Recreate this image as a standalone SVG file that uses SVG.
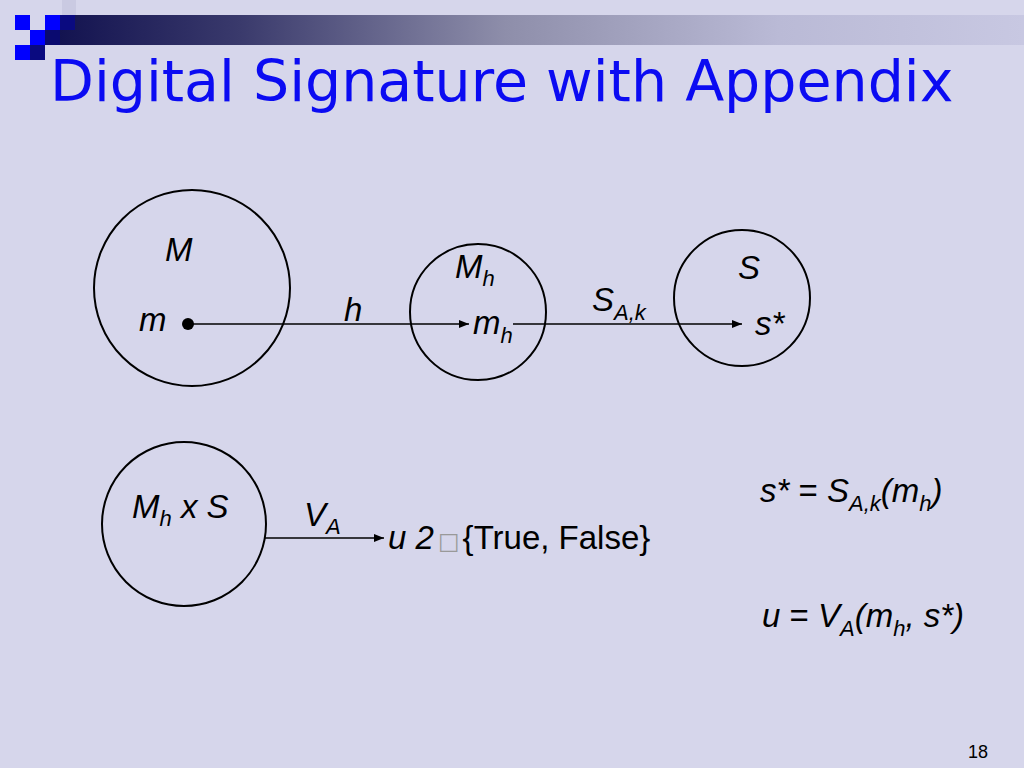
<svg xmlns="http://www.w3.org/2000/svg" width="1024" height="768" viewBox="0 0 1024 768">
<defs>
<linearGradient id="bar" x1="45" y1="0" x2="1024" y2="0" gradientUnits="userSpaceOnUse">
<stop offset="0" stop-color="#10104e"/>
<stop offset="0.2" stop-color="#3a3a6c"/>
<stop offset="0.47" stop-color="#8e8eaa"/>
<stop offset="0.75" stop-color="#babad6"/>
<stop offset="1" stop-color="#c8c8e2"/>
</linearGradient>
<marker id="arr" viewBox="0 0 10 10" refX="10" refY="5" markerWidth="12" markerHeight="10" markerUnits="userSpaceOnUse" orient="auto">
<path d="M0,1 L10,5 L0,9 Z" fill="#000"/>
</marker>
<style>
.t{font-family:"Liberation Sans",Arial,sans-serif;font-style:italic;font-size:33px;fill:#000}
.r{font-style:normal}
.sub{font-size:22px}
.c{fill:none;stroke:#000;stroke-width:2}
.ln{stroke:#000;stroke-width:1.6;fill:none;marker-end:url(#arr)}
</style>
</defs>
<rect width="1024" height="768" fill="#d6d6eb"/>
<g id="header">
<rect x="62" y="0" width="14" height="15" fill="#cacae2"/>
<rect x="45" y="15" width="979" height="30" fill="url(#bar)"/>
<rect x="15" y="15" width="15" height="15" fill="#0000ff"/>
<rect x="45" y="15" width="15" height="15" fill="#0000ff"/>
<rect x="60" y="15" width="15" height="15" fill="#0a0a80"/>
<rect x="30" y="30" width="15" height="15" fill="#0000ff"/>
<rect x="45" y="30" width="15" height="15" fill="#0a0a70"/>
<rect x="15" y="45" width="15" height="15" fill="#0000ff"/>
<rect x="30" y="45" width="15" height="15" fill="#0a0a80"/>
</g>
<text id="title" x="50" y="101" font-family="DejaVu Sans,Verdana,sans-serif" font-size="57" fill="#0b0bf2">Digital Signature with Appendix</text>
<g id="node-M">
<circle class="c" cx="192" cy="288" r="98"/>
<text class="t" x="165" y="261">M</text>
<text class="t" x="139" y="331">m</text>
<circle cx="188" cy="324" r="6" fill="#000"/>
</g>
<g id="node-Mh">
<circle class="c" cx="478" cy="312" r="68"/>
<text class="t" x="455" y="278">M<tspan class="sub" dy="8">h</tspan></text>
<text class="t" x="473" y="334">m<tspan class="sub" dy="9">h</tspan></text>
</g>
<g id="node-S">
<circle class="c" cx="742" cy="298" r="68"/>
<text class="t" x="738" y="279">S</text>
<text class="t" x="755" y="335">s*</text>
</g>
<g id="node-MhxS">
<circle class="c" cx="184" cy="524" r="82"/>
<text class="t" x="132" y="518">M<tspan class="sub" dy="8">h</tspan><tspan dy="-8"> x S</tspan></text>
</g>
<g id="connectors">
<line class="ln" x1="188" y1="324" x2="469" y2="324"/>
<line class="ln" x1="513" y1="324" x2="742" y2="324"/>
<line class="ln" x1="265" y1="538" x2="384" y2="538"/>
</g>
<g id="labels">
<text class="t" x="344" y="321">h</text>
<text class="t" x="592" y="311">S<tspan class="sub" dy="9">A,k</tspan></text>
<text class="t" x="304" y="526">V<tspan class="sub" dy="8">A</tspan></text>
<text class="t" x="388" y="549">u 2<tspan class="r" dx="4" font-family="DejaVu Sans,sans-serif" font-size="23" fill="#999">□</tspan><tspan class="r" dx="3">{True, False}</tspan></text>
</g>
<g id="equations">
<text class="t" x="760" y="502">s* <tspan class="r">=</tspan> S<tspan class="sub" dy="9">A,k</tspan><tspan dy="-9">(m</tspan><tspan class="sub" dy="9">h</tspan><tspan dy="-9">)</tspan></text>
<text class="t" x="762" y="627">u <tspan class="r">=</tspan> V<tspan class="sub" dy="9">A</tspan><tspan dy="-9">(m</tspan><tspan class="sub" dy="9">h</tspan><tspan dy="-9">, s*)</tspan></text>
</g>
<text id="page" x="988" y="758" text-anchor="end" font-family="Liberation Sans,Arial,sans-serif" font-size="18" fill="#000">18</text>
</svg>
